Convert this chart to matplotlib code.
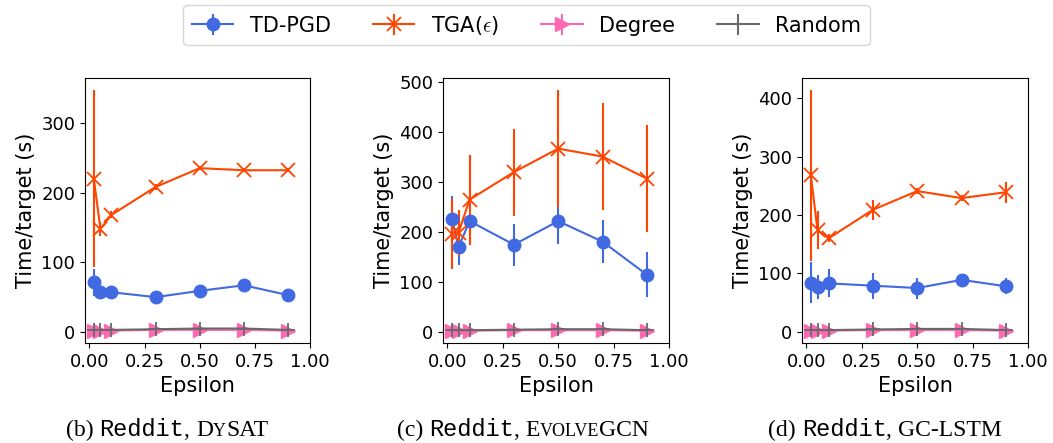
import numpy as np
import matplotlib
matplotlib.use("Agg")
import matplotlib.pyplot as plt

plt.rcParams["mathtext.fontset"] = "cm"

## data
eps = [0.02, 0.05, 0.1, 0.3, 0.5, 0.7, 0.9]

# (b) DySAT
dysat_td = [71, 58, 57, 50, 59, 67, 53]
dysat_td_err = [19, 5, 5, 4, 8, 5, 9]
dysat_tga = [220, 148, 168, 208, 235, 232, 232]
dysat_tga_err = [127, 10, 5, 4, 3, 3, 3]

# (c) EvolveGCN
evolve_td = [226, 169, 221, 174, 221, 180, 114]
evolve_td_err = [46, 36, 10, 42, 46, 43, 45]
evolve_tga = [196, 198, 264, 319, 366, 350, 306]
evolve_tga_err = [70, 46, 90, 87, 117, 107, 107]

# (d) GC-LSTM
gclstm_td = [84, 77, 83, 79, 75, 89, 78]
gclstm_td_err = [35, 20, 24, 22, 18, 5, 14]
gclstm_tga = [268, 174, 160, 209, 241, 229, 239]
gclstm_tga_err = [146, 33, 7, 17, 5, 5, 18]

degree = [2, 2, 2, 3, 3, 3, 2]
degree_err = [0.5] * 7
rand = [3, 3, 3, 4, 5, 5, 3]
rand_err = [0.5] * 7

panels = [
    (dysat_td, dysat_td_err, dysat_tga, dysat_tga_err),
    (evolve_td, evolve_td_err, evolve_tga, evolve_tga_err),
    (gclstm_td, gclstm_td_err, gclstm_tga, gclstm_tga_err),
]

c_td = "royalblue"
c_tga = "orangered"
c_deg = "hotpink"
c_rnd = "dimgray"

W, H = 1053, 443
fig = plt.figure(figsize=(W / 100, H / 100), dpi=100)

# axes boxes in pixels: left, right
boxes = [(85, 310), (443, 669), (802, 1028)]
top, bottom = 78, 343

handles = None
for (l, r), (td, tde, tga, tgae) in zip(boxes, panels):
    ax = fig.add_axes([l / W, 1 - bottom / H, (r - l) / W, (bottom - top) / H])
    h1 = ax.errorbar(eps, td, yerr=tde, color=c_td, marker="o", ms=9, lw=1.5, elinewidth=1.5)
    h2 = ax.errorbar(eps, tga, yerr=tgae, color=c_tga, marker="x", ms=10, mew=1.3, lw=1.5, elinewidth=1.5)
    h3 = ax.errorbar(eps, degree, yerr=degree_err, color=c_deg, marker=">", ms=10, lw=1.5)
    h4 = ax.errorbar(eps, rand, yerr=rand_err, color=c_rnd, marker="+", ms=10, mew=1.3, lw=1.5)
    handles = [h1, h2, h3, h4]
    ax.set_xlim(-0.02, 1.0)
    ax.set_xticks([0, 0.25, 0.5, 0.75, 1.0])
    ax.set_xticklabels(["0.00", "0.25", "0.50", "0.75", "1.00"])
    ax.tick_params(labelsize=13)
    ax.set_xlabel("Epsilon", fontsize=15)
    ax.set_ylabel("Time/target (s)", fontsize=15)

# legend
labels = ["TD-PGD", r"TGA($\epsilon$)", "Degree", "Random"]
fig.legend(handles, labels, loc="upper center", bbox_to_anchor=(0.5, 1.0),
           ncol=4, fontsize=15, borderaxespad=0.25, frameon=True)

# captions with mixed fonts (monospace dataset name, small caps model)
renderer = fig.canvas.get_renderer()


def caption(cx, cy, parts):
    texts = []
    for s, fam, size in parts:
        t = fig.text(0, cy / H, s, family=fam, fontsize=size, va="baseline")
        texts.append(t)
    widths = [t.get_window_extent(renderer).width for t in texts]
    x = cx - sum(widths) / 2
    for t, w in zip(texts, widths):
        t.set_x(x / W)
        x += w


serif = "Liberation Serif"
mono = "Liberation Mono"
big, small = 17, 13
caption(167, H - 436, [("(b) ", serif, big), ("Reddit", mono, big), (", ", serif, big),
                       ("D", serif, big), ("Y", serif, small), ("SAT", serif, big)])
caption(523, H - 436, [("(c) ", serif, big), ("Reddit", mono, big), (", ", serif, big),
                       ("E", serif, big), ("VOLVE", serif, small), ("GCN", serif, big)])
caption(885, H - 436, [("(d) ", serif, big), ("Reddit", mono, big), (", ", serif, big),
                       ("GC-LSTM", serif, big)])

fig.savefig("out.png", dpi=100)
